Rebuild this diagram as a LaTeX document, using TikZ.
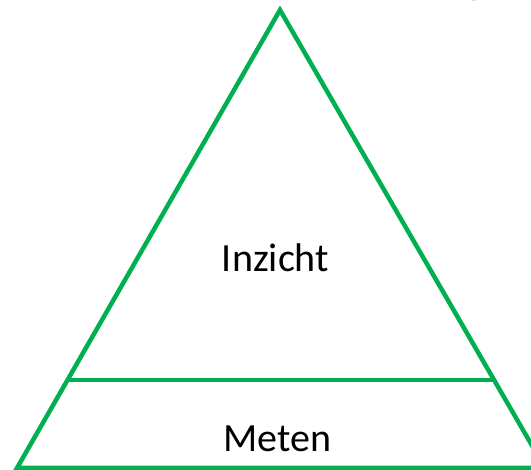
\documentclass[tikz,border=0pt]{standalone}
\usepackage{fontspec}
\setmainfont{Carlito}
\usetikzlibrary{calc}
\definecolor{pyrgreen}{RGB}{0,176,80}
\begin{document}
\begin{tikzpicture}[x=1pt,y=-1pt,
  edge/.style={draw=pyrgreen,line width=4.5pt,line join=miter},
  label/.style={font=\fontsize{40}{46}\selectfont,anchor=base,inner sep=0pt}]
\useasboundingbox (0,0) rectangle (531,470);
\clip (0,0) rectangle (531,470);
\coordinate (apex) at (280,10);
\coordinate (bl) at (17,468);
\coordinate (br) at (545,468);
\coordinate (ml) at ($(apex)!0.8079!(bl)$);
\coordinate (mr) at ($(apex)!0.8079!(br)$);
\draw[edge] (apex) -- (bl) -- (br) -- cycle;
\draw[edge] (ml) -- (mr);
\node[label] (inzicht) at (275.5,272) {Inzicht};
\node[label] (meten) at (277.5,452) {Meten};
\node[label,font=\fontsize{36}{42}\selectfont] (tail) at (474,-5) {g};
\end{tikzpicture}
\end{document}
